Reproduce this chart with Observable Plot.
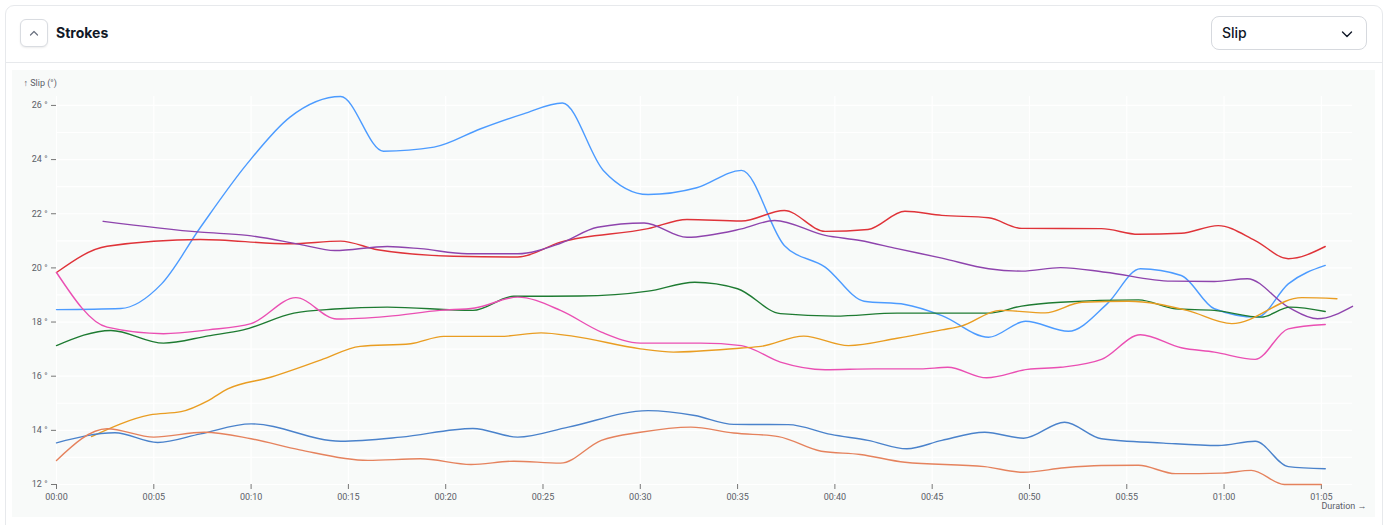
<!DOCTYPE html>
<html>
<head>
<meta charset="utf-8">
<script src="https://cdn.jsdelivr.net/npm/d3@7"></script>
<script src="https://cdn.jsdelivr.net/npm/@observablehq/plot@0.6"></script>
<style>
  html, body { margin: 0; padding: 0; background: #ffffff; width: 1388px; height: 525px; overflow: hidden; font-family: Inter, "Noto Sans", sans-serif; }
  .card { position: absolute; left: 5px; top: 5px; width: 1376px; height: 540px; border: 1px solid #e7e9ec; border-radius: 9px; background: #fff; }
  .sep { position: absolute; left: 5px; top: 62px; width: 1378px; height: 1px; background: #e7e9ec; }
  .btn { position: absolute; left: 20px; top: 19px; width: 26px; height: 26px; border: 1px solid #d9dce1; border-radius: 6px; background: #fff; box-shadow: 0 1px 2px rgba(0,0,0,0.08); }
  .title { position: absolute; left: 56px; top: 24px; font-size: 14px; font-weight: 700; color: #111827; line-height: 18px; }
  .select { position: absolute; left: 1211px; top: 16px; width: 154px; height: 32px; border: 1px solid #d6d9de; border-radius: 8px; background: #fff; }
  .select span { position: absolute; left: 10px; top: 7px; font-size: 14px; color: #111827; line-height: 18px; font-weight: 500; }
  .chart { position: absolute; left: 12px; top: 70px; width: 1363px; height: 447px; background: #f8faf9; }
</style>
</head>
<body>
<div class="card"></div>
<div class="sep"></div>
<div class="btn"><svg width="26" height="26" viewBox="0 0 26 26"><path d="M9.5 15 L13 11.5 L16.5 15" fill="none" stroke="#6b7280" stroke-width="1.2" stroke-linecap="round" stroke-linejoin="round"/></svg></div>
<div class="title">Strokes</div>
<div class="select"><span>Slip</span><svg style="position:absolute;left:128px;top:10px" width="14" height="14" viewBox="0 0 14 14"><path d="M2.5 5 L7 9.5 L11.5 5" fill="none" stroke="#111827" stroke-width="1.4" stroke-linecap="round" stroke-linejoin="round"/></svg></div>
<div class="chart" id="chart"></div>
<script>
// ---- data (seconds, degrees) ----
const seriesNames = ["Stroke A", "Stroke B", "Stroke C", "Stroke D", "Stroke E", "Stroke F", "Stroke G", "Stroke H"];

const tA = [0, 3.3, 5.4, 7.4, 9.8, 12.0, 14.6, 16.8, 19.4, 21.8, 24.0, 26.0, 28.1, 30.4, 32.9, 35.2, 37.4, 39.5, 41.5, 43.6, 45.5, 47.9, 49.8, 52.0, 54.0, 55.7, 57.8, 59.5, 61.7, 63.3, 65.2];
const vA = [18.46, 18.5, 19.41, 21.5, 23.85, 25.57, 26.33, 24.31, 24.46, 25.14, 25.69, 26.09, 23.6, 22.71, 22.96, 23.6, 20.83, 20.03, 18.77, 18.65, 18.24, 17.44, 18.03, 17.66, 18.68, 19.97, 19.72, 18.49, 18.18, 19.41, 20.09];

const tB = [0, 2.6, 7.4, 12.0, 14.6, 16.5, 20.4, 23.7, 25.9, 30.4, 32.4, 35.2, 37.4, 39.5, 41.7, 43.6, 45.5, 47.9, 49.6, 53.7, 55.6, 57.8, 59.7, 61.6, 63.3, 65.2];
const vB = [19.83, 20.8, 21.05, 20.89, 20.99, 20.67, 20.43, 20.4, 20.95, 21.45, 21.79, 21.73, 22.12, 21.35, 21.42, 22.09, 21.94, 21.85, 21.46, 21.45, 21.24, 21.28, 21.56, 21.01, 20.34, 20.79];

const tC = [2.4, 7.4, 9.8, 12.5, 14.3, 17.0, 18.7, 21.1, 23.7, 25.9, 27.8, 30.2, 32.4, 35.2, 36.9, 39.5, 41.3, 43.2, 45.5, 47.9, 49.6, 51.6, 53.9, 57.3, 59.5, 61.2, 63.3, 64.8, 66.6];
const vC = [21.72, 21.32, 21.2, 20.87, 20.64, 20.79, 20.71, 20.52, 20.52, 20.91, 21.5, 21.66, 21.13, 21.44, 21.75, 21.2, 21.01, 20.71, 20.36, 19.97, 19.88, 20.01, 19.84, 19.51, 19.5, 19.6, 18.55, 18.12, 18.58];

const tD = [0, 2.8, 5.5, 7.8, 9.6, 12.2, 14.3, 17.0, 21.4, 23.5, 26.9, 30.4, 32.8, 35.0, 37.2, 40.0, 43.2, 47.9, 49.6, 51.6, 55.6, 57.5, 59.5, 61.9, 63.4, 65.2];
const vD = [17.13, 17.69, 17.22, 17.49, 17.71, 18.33, 18.48, 18.55, 18.43, 18.95, 18.96, 19.14, 19.47, 19.23, 18.31, 18.22, 18.33, 18.33, 18.59, 18.73, 18.82, 18.49, 18.43, 18.18, 18.55, 18.39];

const tE = [0, 2.6, 5.5, 7.8, 10.0, 12.3, 14.4, 17.0, 19.7, 21.5, 23.7, 25.9, 28.0, 30.0, 33.1, 35.2, 37.2, 39.5, 42.0, 44.4, 45.8, 47.8, 49.9, 51.6, 53.7, 55.7, 57.8, 59.5, 61.6, 63.3, 65.2];
const vE = [19.83, 17.81, 17.57, 17.71, 17.94, 18.9, 18.11, 18.21, 18.43, 18.52, 18.92, 18.43, 17.63, 17.22, 17.22, 17.13, 16.52, 16.24, 16.27, 16.27, 16.33, 15.94, 16.25, 16.33, 16.62, 17.53, 17.05, 16.89, 16.62, 17.75, 17.91];

const tF = [1.8, 4.8, 6.4, 7.8, 8.8, 11.0, 13.6, 15.6, 18.2, 19.9, 22.8, 24.9, 26.6, 30.0, 31.7, 35.2, 36.2, 38.4, 40.7, 43.2, 45.5, 46.5, 48.5, 50.8, 52.7, 55.1, 58.1, 60.4, 64.0, 65.8];
const vF = [13.77, 14.57, 14.69, 15.1, 15.53, 15.96, 16.6, 17.1, 17.2, 17.47, 17.47, 17.6, 17.47, 17.01, 16.89, 17.04, 17.1, 17.48, 17.13, 17.4, 17.71, 17.85, 18.43, 18.34, 18.73, 18.77, 18.43, 17.94, 18.9, 18.86];

const tG = [0, 3.0, 5.2, 7.4, 10.0, 14.6, 17.7, 21.4, 23.7, 26.3, 30.4, 32.8, 34.8, 37.6, 39.8, 41.7, 43.7, 45.5, 47.7, 49.7, 51.8, 53.7, 56.9, 59.7, 61.6, 63.3, 65.2];
const vG = [13.54, 13.91, 13.55, 13.87, 14.24, 13.6, 13.75, 14.07, 13.75, 14.12, 14.73, 14.55, 14.22, 14.21, 13.85, 13.63, 13.32, 13.63, 13.93, 13.71, 14.3, 13.69, 13.53, 13.44, 13.6, 12.66, 12.58];

const tH = [0, 2.6, 5.0, 7.6, 10.0, 12.5, 16.0, 18.7, 21.3, 23.5, 25.9, 28.0, 30.0, 32.6, 34.8, 37.1, 39.3, 41.3, 43.6, 47.7, 49.7, 51.8, 53.7, 55.6, 57.5, 59.9, 61.4, 63.1, 65.0];
const vH = [12.89, 14.06, 13.75, 13.93, 13.69, 13.28, 12.89, 12.95, 12.74, 12.86, 12.79, 13.63, 13.93, 14.12, 13.9, 13.77, 13.23, 13.11, 12.82, 12.66, 12.45, 12.62, 12.7, 12.71, 12.4, 12.42, 12.52, 12.0, 12.0];

const xTicks = [0, 5, 10, 15, 20, 25, 30, 35, 40, 45, 50, 55, 60, 65];
const yTicks = [12, 14, 16, 18, 20, 22, 24, 26];
const yGrid = [12, 13, 14, 15, 16, 17, 18, 19, 20, 21, 22, 23, 24, 25, 26];

// ---- styling ----
const palette = ["#4c9bff", "#df3339", "#8e44ad", "#1e7b32", "#ea4fb3", "#e99d22", "#4a82cb", "#e5825d"];

// ---- build table ----
const times = [tA, tB, tC, tD, tE, tF, tG, tH];
const values = [vA, vB, vC, vD, vE, vF, vG, vH];
const rows = [];
seriesNames.forEach((name, i) => {
  times[i].forEach((t, j) => rows.push({series: name, t, v: values[i][j]}));
});

const fmtTime = s => {
  const m = Math.floor(s / 60), r = Math.round(s % 60);
  return String(m).padStart(2, "0") + ":" + String(r).padStart(2, "0");
};

const allT = rows.map(d => d.t), allV = rows.map(d => d.v);

const chart = Plot.plot({
  width: 1363,
  height: 447,
  marginLeft: 44,
  marginRight: 23,
  marginTop: 26,
  marginBottom: 33,
  style: {background: "transparent", fontSize: "9px", fontFamily: "Roboto, 'Liberation Sans', sans-serif", color: "#5b6068", overflow: "visible"},
  x: {domain: [0, d3.max(allT)]},
  y: {domain: [d3.min(allV), d3.max(allV)]},
  color: {domain: seriesNames, range: palette},
  marks: [
    Plot.gridY(yGrid, {stroke: "#ffffff", strokeOpacity: 1, strokeWidth: 1.2}),
    Plot.gridX(xTicks, {stroke: "#ffffff", strokeOpacity: 1, strokeWidth: 1.2}),
    Plot.axisY(yTicks, {tickFormat: d => `${d} °`, label: null, tickSize: 5, stroke: "#777"}),
    Plot.axisX(xTicks, {tickFormat: fmtTime, label: null, tickSize: 5, stroke: "#777"}),
    Plot.line(rows, {x: "t", y: "v", z: "series", stroke: "series", curve: "monotone-x", strokeWidth: 1.4}),
    Plot.text(["↑ Slip (°)"], {frameAnchor: "top-left", dx: -33, dy: -13, textAnchor: "start", lineAnchor: "middle", fill: "#5b6068"}),
    Plot.text(["Duration →"], {frameAnchor: "bottom-right", dx: 14, dy: 22, textAnchor: "end", lineAnchor: "middle", fill: "#5b6068"})
  ]
});
document.getElementById("chart").appendChild(chart);
</script>
</body>
</html>
